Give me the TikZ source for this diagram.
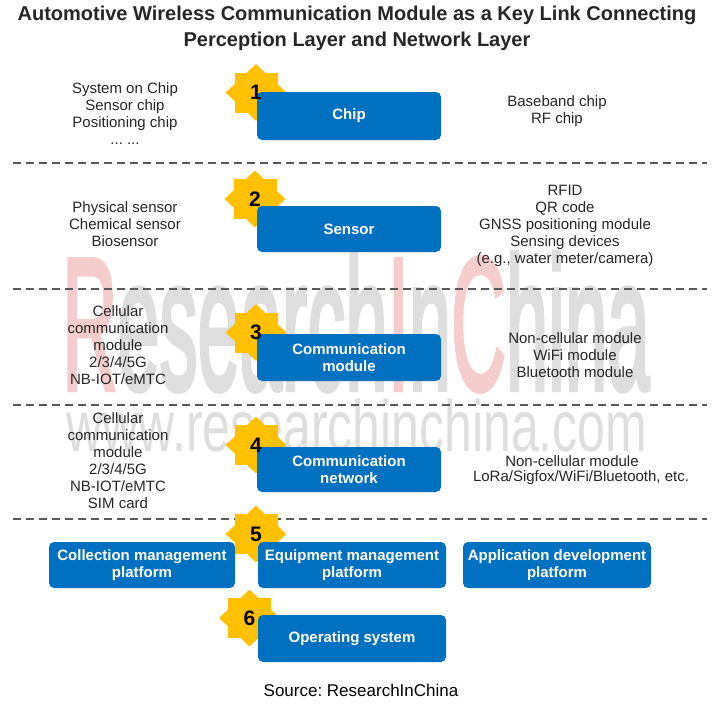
\documentclass[tikz,border=0pt]{standalone}
\usepackage{fontspec}
\setmainfont{Liberation Sans}
\newfontfamily\wmfont[FakeBold=3]{Liberation Sans}
\usetikzlibrary{shapes.geometric}
\definecolor{boxblue}{HTML}{0070C0}
\definecolor{stargold}{HTML}{FFC000}
\definecolor{wmred}{HTML}{F6CDCD}
\definecolor{wmgray}{HTML}{DEDEDE}
\definecolor{txt}{HTML}{262626}
\frenchspacing
\begin{document}
\begin{tikzpicture}[x=1pt,y=-1pt,
  bluebox/.style={fill=boxblue, rounded corners=5pt, text=white,
    font=\fontsize{15}{17}\selectfont\bfseries, align=center, inner sep=0pt},
  badgesq/.style={rectangle, fill=stargold, minimum width=43pt, minimum height=40pt, inner sep=0pt},
  badgedia/.style={diamond, fill=stargold, minimum width=61pt, minimum height=57pt, inner sep=0pt},
  num/.style={font=\fontsize{21}{21}\selectfont\bfseries, text=black},
  lbl/.style={font=\fontsize{15}{17}\selectfont, align=center, text=txt},
  sepline/.style={dash pattern=on 8pt off 5pt, line width=2pt, draw=black!65}]
\useasboundingbox (0,0) rectangle (713,705);
% watermark
\node[inner sep=0pt, xscale=1.9, yscale=4.7, font=\wmfont\fontsize{40}{40}\selectfont] (wm1) at (356,322)
  {\textcolor{wmred}{R}\textcolor{wmgray}{esearch}\textcolor{wmred}{I}\textcolor{wmgray}{n}\textcolor{wmred}{C}\textcolor{wmgray}{hina}};
\node[inner sep=0pt, yscale=1.45, font=\fontsize{50}{50}\selectfont, text=wmgray] (wm2) at (357,426) {www.researchinchina.com};
% title
\node[font=\fontsize{20}{26}\selectfont\bfseries, align=center, text=txt] (title) at (357,28)
  {Automotive Wireless Communication Module as a Key Link Connecting\\Perception Layer and Network Layer};
% separators
\coordinate (s1a) at (13,163); \coordinate (s1b) at (707,163);
\coordinate (s2a) at (13,289); \coordinate (s2b) at (707,289);
\coordinate (s3a) at (13,405); \coordinate (s3b) at (707,405);
\coordinate (s4a) at (13,519); \coordinate (s4b) at (707,519);
\draw[sepline] (s1a) -- (s1b);
\draw[sepline] (s2a) -- (s2b);
\draw[sepline] (s3a) -- (s3b);
\draw[sepline] (s4a) -- (s4b);
% stars (two overlapping squares)
\node[badgesq] (st1) at (256,92.5) {};   \node[badgedia] (st1d) at (st1) {};
\node[badgesq] (st2) at (255,199) {};    \node[badgedia] (st2d) at (st2) {};
\node[badgesq] (st3) at (256,332.5) {};  \node[badgedia] (st3d) at (st3) {};
\node[badgesq] (st4) at (256,445) {};    \node[badgedia] (st4d) at (st4) {};
\node[badgesq] (st5) at (256,534) {};    \node[badgedia] (st5d) at (st5) {};
\node[badgesq] (st6) at (249.5,618) {};  \node[badgedia] (st6d) at (st6) {};
% boxes
\node[bluebox, minimum width=184pt, minimum height=48pt] (chip) at (349,116) {Chip};
\node[bluebox, minimum width=184pt, minimum height=46pt] (sensor) at (349,229) {Sensor};
\node[bluebox, minimum width=184pt, minimum height=47pt] (cmod) at (349,357.5) {Communication\\module};
\node[bluebox, minimum width=184pt, minimum height=45pt] (cnet) at (349,469.5) {Communication\\network};
\node[bluebox, minimum width=186pt, minimum height=46pt] (coll) at (142,565) {Collection management\\platform};
\node[bluebox, minimum width=188pt, minimum height=46pt] (equip) at (352,565) {Equipment management\\platform};
\node[bluebox, minimum width=188pt, minimum height=46pt] (app) at (557,565) {Application development\\platform};
\node[bluebox, minimum width=188pt, minimum height=47pt] (os) at (352,638.5) {Operating system};
% numbers
\node[num] (n1) at (st1) {1};
\node[num] (n2) at (st2) {2};
\node[num] (n3) at (st3) {3};
\node[num] (n4) at (st4) {4};
\node[num] (n5) at (st5) {5};
\node[num] (n6) at (st6) {6};
% side labels
\node[lbl] (l1) at (125,114) {System on Chip\\Sensor chip\\Positioning chip\\... ...};
\node[lbl] (r1) at (557,111.5) {Baseband chip\\RF chip};
\node[lbl] (l2) at (125,224) {Physical sensor\\Chemical sensor\\Biosensor};
\node[lbl] (r2) at (565,226) {RFID\\QR code\\GNSS positioning module\\Sensing devices\\(e.g., water meter/camera)};
\node[lbl] (l3) at (118,345) {Cellular\\communication\\module\\2/3/4/5G\\NB-IOT/eMTC};
\node[lbl] (r3) at (575,355) {Non-cellular module\\WiFi module\\Bluetooth module};
\node[lbl] (l4) at (118,461) {Cellular\\communication\\module\\2/3/4/5G\\NB-IOT/eMTC\\SIM card};
\node[lbl] (r4a) at (572,461) {Non-cellular module};
\node[lbl] (r4b) at (581,478) {LoRa/Sigfox/WiFi/Bluetooth, etc.};
% source
\node[font=\fontsize{17}{17}\selectfont, text=black] (src) at (361,690) {Source: ResearchInChina};
\end{tikzpicture}
\end{document}
